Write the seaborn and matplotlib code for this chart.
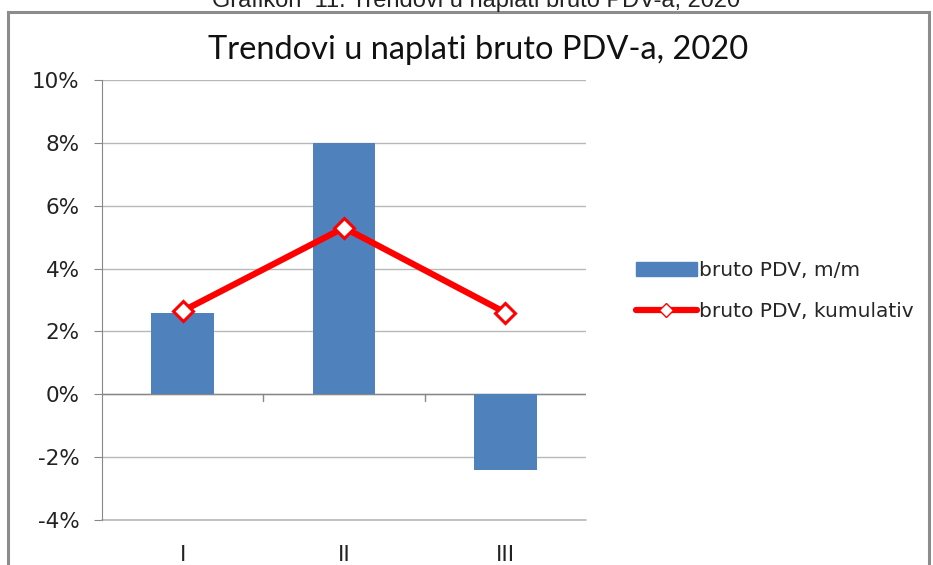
import matplotlib
matplotlib.use("Agg")
import matplotlib.pyplot as plt
from matplotlib.patches import Rectangle
from matplotlib.lines import Line2D
from matplotlib.ticker import FuncFormatter
import seaborn as sns

months = ["I", "II", "III"]
pdv_mm = [2.6, 8.0, -2.4]
pdv_kum = [2.65, 5.3, 2.6]

title = "Trendovi u naplati bruto PDV-a, 2020"
caption = "Grafikon  11. Trendovi u naplati bruto PDV-a, 2020"

sns.set_style("white")
plt.rcParams["font.family"] = ["DejaVu Sans"]

fig = plt.figure(figsize=(9.33, 5.65), dpi=100)
ax = fig.add_axes([102 / 933, 1 - 520 / 565, 484 / 933, 440 / 565])

# outer frame of the chart box
fig.patches.append(Rectangle((8 / 933, -0.05), 921 / 933, 1.05 - 12 / 565,
                             transform=fig.transFigure, fill=False,
                             edgecolor="#8c8c8c", lw=2.2))
fig.text(0.51, 1 - 1 / 565, caption, ha="center", va="center",
         fontsize=17, color="#222222", family="Liberation Sans")

sns.barplot(x=months, y=pdv_mm, color="#4F81BD", width=0.39, saturation=1,
            linewidth=0, ax=ax, zorder=3)
sns.lineplot(x=months, y=pdv_kum, color="#FF0000", lw=4.5, marker="D",
             markersize=10, markerfacecolor="white", markeredgecolor="#FF0000",
             markeredgewidth=2.2, sort=False, ax=ax, zorder=4)

ax.set_xlim(-0.5, 2.5)
ax.set_ylim(-4, 10)
ax.set_yticks(range(-4, 11, 2))
ax.yaxis.set_major_formatter(FuncFormatter(lambda v, p: f"{v:.0f}%"))
ax.grid(axis="y", color="#b8b8b8", lw=1, zorder=0)
for s in ["top", "right", "bottom"]:
    ax.spines[s].set_visible(False)
ax.spines["left"].set_color("#888888")
ax.axhline(-4, color="#b8b8b8", lw=1.2, zorder=1, clip_on=False)
ax.axhline(0, color="#888888", lw=1, zorder=2)
for xb in [0.5, 1.5]:
    ax.plot([xb, xb], [0, -0.2], color="#888888", lw=1, zorder=2)
ax.tick_params(axis="y", length=6, color="#888888", labelsize=15.5,
               labelcolor="#222222", pad=10, left=True)
ax.tick_params(axis="x", length=0, labelsize=15.5, labelcolor="#222222", pad=18)
ax.set_xlabel("")
ax.set_ylabel("")
if ax.get_legend():
    ax.get_legend().remove()

fig.text(478 / 933, 1 - 50 / 565, title, ha="center", va="center",
         fontsize=23.5, color="#111111", family="Lato")

handles = [Rectangle((0, 0), 1, 1, color="#4F81BD"),
           Line2D([], [], color="#FF0000", lw=4.5, marker="D", markersize=7,
                  markerfacecolor="white", markeredgecolor="#FF0000")]
fig.legend(handles, ["bruto PDV, m/m", "bruto PDV, kumulativ"],
           loc="center left", bbox_to_anchor=(618 / 933, 1 - 291 / 565),
           frameon=False, fontsize=14.5, handlelength=3.0, handletextpad=0.1,
           labelspacing=1.1)

fig.savefig("out.png", dpi=100)
